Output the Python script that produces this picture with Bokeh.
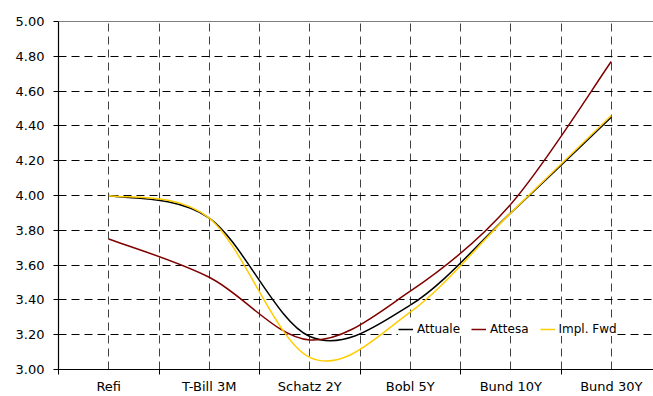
import numpy as np
from bokeh.plotting import figure
from bokeh.models import (FixedTicker, NumeralTickFormatter, Span, Legend,
                          LegendItem, Range1d, ColumnDataSource)
from bokeh.embed import file_html
from bokeh.resources import INLINE

# ---- data ----
categories = ["Refi", "T-Bill 3M", "Schatz 2Y", "Bobl 5Y", "Bund 10Y", "Bund 30Y"]
attuale = [4.00, 3.87, 3.19, 3.37, 3.90, 4.45]
attesa = [3.75, 3.53, 3.17, 3.45, 3.95, 4.77]
impl_fwd = [4.00, 3.87, 3.07, 3.33, 3.90, 4.46]
series_names = ["Attuale", "Attesa", "Impl. Fwd"]
y_ticks = [3.00, 3.20, 3.40, 3.60, 3.80, 4.00, 4.20, 4.40, 4.60, 4.80, 5.00]

series_values = [attuale, attesa, impl_fwd]
series_colors = ["#000000", "#800000", "#FFCC00"]

xs = list(range(len(categories)))


def smooth_segments(xv, yv):
    """Bezier segments (Excel-like smoothing) through the data points."""
    x = np.asarray(xv, float)
    y = np.asarray(yv, float)
    n = len(x)
    xp = np.concatenate([[x[0]], x, [x[-1]]])
    yp = np.concatenate([[y[0]], y, [y[-1]]])
    cx0 = x[:-1] + (xp[2:n + 1] - xp[0:n - 1]) / 6.0
    cy0 = y[:-1] + (yp[2:n + 1] - yp[0:n - 1]) / 6.0
    cx1 = x[1:] - (xp[3:n + 2] - xp[1:n]) / 6.0
    cy1 = y[1:] - (yp[3:n + 2] - yp[1:n]) / 6.0
    return dict(x0=x[:-1], y0=y[:-1], x1=x[1:], y1=y[1:],
                cx0=cx0, cy0=cy0, cx1=cx1, cy1=cy1)


W, H = 653, 396
p = figure(width=W, height=H, output_backend="svg", toolbar_location=None,
           x_range=Range1d(-0.5, 5.42), y_range=Range1d(3.0, 5.0),
           min_border_left=58, min_border_right=0, min_border_top=21,
           min_border_bottom=27)
p.outline_line_color = None
p.background_fill_color = "white"
p.border_fill_color = "white"

# grid
half_steps = [i * 0.5 for i in range(2 * len(categories) - 1)]
p.xgrid.ticker = FixedTicker(ticks=half_steps)
p.ygrid.ticker = FixedTicker(ticks=y_ticks)
p.xgrid.grid_line_color = "#404040"
p.ygrid.grid_line_color = "#000000"
for g in (p.xgrid, p.ygrid):
    g.grid_line_dash = "8 5"
    g.grid_line_width = 1

# x axis
p.xaxis.ticker = FixedTicker(ticks=xs,
                             minor_ticks=[i - 0.5 for i in range(len(categories) + 1)])
p.xaxis.major_label_overrides = {i: c for i, c in enumerate(categories)}
p.xaxis.major_tick_out = 0
p.xaxis.major_tick_in = 0
p.xaxis.minor_tick_out = 5
p.xaxis.minor_tick_in = 0
p.xaxis.minor_tick_line_color = "#000000"
p.xaxis.major_label_standoff = 4

# y axis
p.yaxis.ticker = FixedTicker(ticks=y_ticks)
p.yaxis.formatter = NumeralTickFormatter(format="0.00")
p.yaxis.major_tick_out = 5
p.yaxis.major_tick_in = 0
p.yaxis.minor_tick_line_color = None
p.yaxis.major_label_standoff = 9

for ax in (p.xaxis, p.yaxis):
    ax.axis_line_color = "#000000"
    ax.axis_line_width = 1.2
    ax.major_tick_line_color = "#000000"
    ax.major_label_text_font = "DejaVu Sans"
    ax.major_label_text_font_size = "13px"
    ax.major_label_text_color = "#000000"

# top border
p.add_layout(Span(location=5.0, dimension="width", line_color="#000000",
                  line_width=1.2))

items = []
for name, vals, col in zip(series_names, series_values, series_colors):
    src = ColumnDataSource(smooth_segments(xs, vals))
    r = p.bezier(x0="x0", y0="y0", x1="x1", y1="y1", cx0="cx0", cy0="cy0",
                 cx1="cx1", cy1="cy1", source=src, line_color=col, line_width=1.5)
    items.append(LegendItem(label=name, renderers=[r]))

legend = Legend(items=items, orientation="horizontal", location=(340, 33),
                background_fill_color="white", background_fill_alpha=1.0,
                border_line_color=None, label_text_font="DejaVu Sans",
                label_text_font_size="12px", label_text_color="#000000",
                glyph_width=15, glyph_height=14, label_height=14,
                label_standoff=4, spacing=11, padding=3, margin=0)
p.add_layout(legend)

open("out.html", "w").write(file_html(p, INLINE))
